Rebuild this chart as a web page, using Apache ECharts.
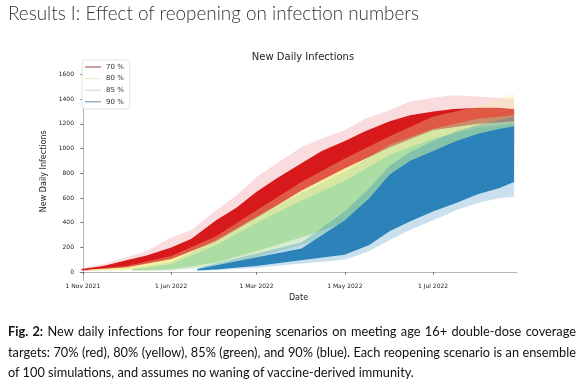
<!DOCTYPE html>
<html><head><meta charset="utf-8">
<script src="https://cdn.jsdelivr.net/npm/echarts@6/dist/echarts.min.js"></script>
<style>
html,body{margin:0;padding:0;background:#fff;}
#wrap{position:relative;width:584px;height:389px;overflow:hidden;background:#fff;}
#chart{position:absolute;left:0;top:0;width:584px;height:389px;}
#heading{position:absolute;left:8px;white-space:nowrap;font-family:Lato,'Open Sans',sans-serif;font-weight:300;color:#333;}
.cap{position:absolute;left:8px;white-space:nowrap;font-family:Lato,'Open Sans',sans-serif;color:#111;line-height:20px;}
</style></head>
<body><div id="wrap"><div id="chart"></div>
<div id="heading">Results I: Effect of reopening on infection numbers</div>
<div class="cap" id="c1"><b>Fig. 2:</b> New daily infections for four reopening scenarios on meeting age 16+ double-dose coverage</div>
<div class="cap" id="c2">targets: 70% (red), 80% (yellow), 85% (green), and 90% (blue). Each reopening scenario is an ensemble</div>
<div class="cap" id="c3">of 100 simulations, and assumes no waning of vaccine-derived immunity.</div>
</div>
<script>
// ---------- axis ticks ----------
const tickDates = ['2021-11-01','2022-01-01','2022-03-01','2022-05-01','2022-07-01'];
const tickLabels = ['1 Nov 2021','1 Jan 2022','1 Mar 2022','1 May 2022','1 Jul 2022'];
const yTicks = [0,200,400,600,800,1000,1200,1400,1600];

// ---------- 70 % (red) : faint low, dense low, dense high, faint high ----------
const d70  = ['2021-10-31','2021-11-15','2021-12-01','2021-12-15','2022-01-01','2022-01-15','2022-02-01','2022-02-15','2022-03-01','2022-03-15','2022-04-01','2022-04-15','2022-05-01','2022-05-15','2022-06-01','2022-06-15','2022-07-01','2022-07-15','2022-08-01','2022-08-15','2022-08-26'];
const lf70 = [10, 18, 28, 42, 65, 95,140,190,250,320,390,460,530,590,670,730,790,830,870,890,910];
const lo70 = [14, 24, 36, 55, 85,120,180,245,320,390,470,550,630,710,790,850,890,940,980,1000,1020];
const hi70 = [25, 50, 95,135,200,270,420,520,650,760,880,980,1060,1140,1220,1270,1300,1320,1330,1330,1320];
const hf70 = [30, 65,120,170,280,340,500,620,770,880,1010,1080,1150,1240,1310,1380,1410,1430,1420,1410,1400];

// ---------- 80 % (yellow) ----------
const d80  = ['2021-11-05','2021-12-01','2022-01-01','2022-02-01','2022-03-01','2022-04-01','2022-05-01','2022-06-01','2022-07-01','2022-08-01','2022-08-26'];
const lf80 = [ 8, 15, 35, 80,160,280,420,580,720,840,900];
const lo80 = [10, 18, 45,110,220,360,520,700,840,960,1000];
const hi80 = [18, 40,105,250,440,660,840,1010,1150,1200,1220];
const hf80 = [22, 50,130,290,500,730,920,1100,1260,1340,1450];

// ---------- 85 % (green) ----------
const d85  = ['2021-12-05','2022-01-01','2022-02-01','2022-03-01','2022-04-01','2022-05-01','2022-06-01','2022-07-01','2022-08-01','2022-08-26'];
const lf85 = [ 8, 12, 50,120,220,340,480,620,760,820];
const lo85 = [12, 20, 75,170,280,400,560,720,860,920];
const hi85 = [22, 65,220,400,580,740,950,1080,1170,1200];
const hf85 = [28, 80,260,450,640,810,1030,1160,1240,1270];

// ---------- 90 % (blue) ----------
const d90  = ['2022-01-19','2022-02-01','2022-03-01','2022-04-01','2022-05-01','2022-05-18','2022-06-01','2022-06-15','2022-07-01','2022-07-17','2022-08-01','2022-08-16','2022-08-26'];
const lf90 = [10, 14, 35, 70,100,170,260,340,420,500,560,600,610];
const lo90 = [13, 20, 50, 95,140,220,330,410,490,560,630,680,730];
const hi90 = [25, 55,120,190,420,600,790,900,980,1060,1120,1160,1180];
const hf90 = [32, 70,150,240,490,680,860,970,1060,1140,1190,1230,1260];

// day offset from 1 Nov 2021 (value axis)
function day(s){const p=s.split('-').map(Number);return Math.round((Date.UTC(p[0],p[1]-1,p[2])-Date.UTC(2021,10,1))/86400000);}

function band(name, dates, lf, lo, hi, hf, core, faintLow, faintHigh){
  const rows = dates.map((d,i)=>[day(d), lf[i], lo[i], hi[i], hf[i]]);
  function poly(api, a, b){
    const pts = [];
    for (let i=0;i<rows.length;i++) pts.push(api.coord([rows[i][0], rows[i][b]]));
    for (let i=rows.length-1;i>=0;i--) pts.push(api.coord([rows[i][0], rows[i][a]]));
    return pts;
  }
  return {
    type:'custom', name:name, silent:true, animation:false, clip:true,
    itemStyle:{color:core},
    encode:{x:0, y:[1,2,3,4]},
    data:rows,
    renderItem:function(params, api){
      if (params.dataIndex !== 0) return null;
      return {type:'group', children:[
        {type:'polygon', shape:{points:poly(api,1,2)}, style:{fill:faintLow}},
        {type:'polygon', shape:{points:poly(api,2,3)}, style:{fill:core}},
        {type:'polygon', shape:{points:poly(api,3,4)}, style:{fill:faintHigh}}
      ]};
    }
  };
}

const series = [
  band('70 %', d70, lf70, lo70, hi70, hf70, '#d7191c', 'rgba(215,25,28,0.45)', 'rgba(228,80,92,0.2)'),
  band('80 %', d80, lf80, lo80, hi80, hf80, '#f4efa2', 'rgba(244,239,162,0.5)', 'rgba(244,239,162,0.3)'),
  band('85 %', d85, lf85, lo85, hi85, hf85, '#abdda4', 'rgba(171,221,164,0.5)', 'rgba(171,221,164,0.4)'),
  band('90 %', d90, lf90, lo90, hi90, hf90, '#2b83ba', 'rgba(43,131,186,0.25)', 'rgba(43,131,186,0.3)')
];

const tickDays = tickDates.map(day);
const font = 'DejaVu Sans';
const chart = echarts.init(document.getElementById('chart'), null, {renderer:'canvas'});
chart.setOption({
  backgroundColor:'transparent',
  animation:false,
  title:{text:'New Daily Infections', left:298, top:47, textAlign:'center',
         textStyle:{fontSize:10, fontWeight:'normal', fontFamily:font, color:'#222'}},
  legend:{left:82, top:60, orient:'vertical', icon:'rect', itemWidth:16, itemHeight:1.2, itemGap:3.6,
          data:[{name:'70 %', itemStyle:{color:'#a3625a'}},
                {name:'80 %', itemStyle:{color:'#f2efc8'}},
                {name:'85 %', itemStyle:{color:'#cfdccd'}},
                {name:'90 %', itemStyle:{color:'#7aa3bd'}}],
          textStyle:{fontSize:7, fontFamily:font, color:'#333', lineHeight:8},
          borderColor:'#dcdcdc', borderWidth:0.8, borderRadius:2, padding:[3,6,3,3], backgroundColor:'#fff',
          selectedMode:false},
  grid:{left:80, top:62, width:437, height:218.5, containLabel:false},
  xAxis:{type:'value', min:-2, max:300,
         name:'Date', nameLocation:'middle', nameGap:10,
         nameTextStyle:{fontSize:8, fontFamily:font, color:'#222'},
         axisLine:{show:true, lineStyle:{color:'#b5b5b5', width:1}},
         axisTick:{show:true, customValues:tickDays, length:2.5, lineStyle:{color:'#666'}},
         axisLabel:{customValues:tickDays, margin:3, fontSize:6, fontFamily:font, color:'#222',
                    formatter:function(v){const i=tickDays.indexOf(Math.round(v));return i>=0?tickLabels[i]:'';}},
         splitLine:{show:false}},
  yAxis:{type:'value', min:-68, max:1700,
         name:'New Daily Infections', nameLocation:'middle', nameGap:29,
         nameTextStyle:{fontSize:8, fontFamily:font, color:'#222'},
         axisLine:{show:true, lineStyle:{color:'#b5b5b5', width:1}},
         axisTick:{show:true, customValues:yTicks, length:2.5, lineStyle:{color:'#666'}},
         axisLabel:{customValues:yTicks, margin:6, fontSize:6, fontFamily:font, color:'#222',
                    formatter:function(v){return String(Math.round(v));}},
         splitLine:{show:false}},
  series:series
});

// ---------- fit the HTML texts ----------
function natW(el){el.style.width='auto';return el.getBoundingClientRect().width;}
const h = document.getElementById('heading');
h.style.fontSize='22px';
const hs = 22*411/natW(h);
h.style.fontSize=hs+'px'; h.style.lineHeight=hs+'px'; h.style.top=(13.5-hs/2)+'px';

const c1=document.getElementById('c1'), c2=document.getElementById('c2'), c3=document.getElementById('c3');
[c1,c2,c3].forEach(c=>c.style.fontSize='14px');
const fs = Math.min(14*566/natW(c1), 14*566/natW(c2));
const centers=[331,352,372];
[c1,c2,c3].forEach((c,i)=>{c.style.fontSize=fs+'px'; c.style.top=(centers[i]-10)+'px';});
[c1,c2].forEach(c=>{c.style.width='568px'; c.style.whiteSpace='normal'; c.style.textAlign='justify'; c.style.textAlignLast='justify';});
</script>
</body></html>
